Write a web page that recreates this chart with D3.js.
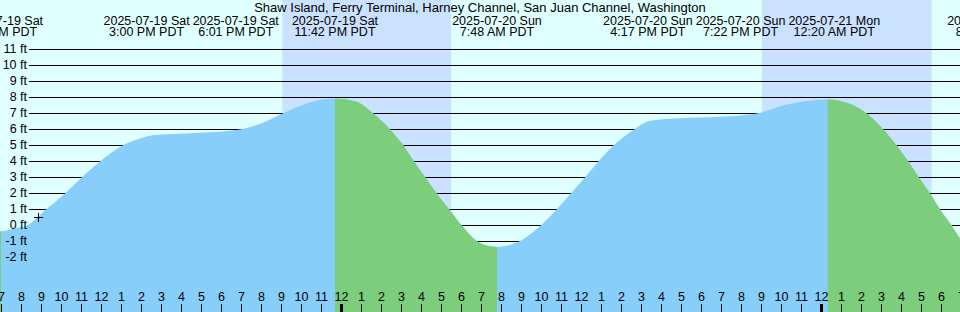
<!DOCTYPE html>
<html>
<head>
<meta charset="utf-8">
<script src="https://cdn.jsdelivr.net/npm/d3@7"></script>
<style>
  html, body { margin: 0; padding: 0; background: #fff; }
  svg { display: block; font-family: "Liberation Sans", Arial, sans-serif; font-size: 12.5px; }
</style>
</head>
<body>
<svg width="960" height="312"></svg>
<script>
const title = 'Shaw Island, Ferry Terminal, Harney Channel, San Juan Channel, Washington';

// water level (PDT, feet)
const curveTimes = [
  '2025-07-19 06:30', '2025-07-19 07:00', '2025-07-19 07:40', '2025-07-19 08:18',
  '2025-07-19 09:15', '2025-07-19 10:12', '2025-07-19 11:02', '2025-07-19 11:57',
  '2025-07-19 13:05', '2025-07-19 13:57', '2025-07-19 14:36', '2025-07-19 15:57',
  '2025-07-19 16:57', '2025-07-19 18:57', '2025-07-19 20:00', '2025-07-19 21:05',
  '2025-07-19 22:17', '2025-07-19 23:07', '2025-07-19 23:42',
  '2025-07-20 00:47', '2025-07-20 01:37', '2025-07-20 02:27', '2025-07-20 03:07',
  '2025-07-20 03:39', '2025-07-20 04:13', '2025-07-20 04:47', '2025-07-20 05:25',
  '2025-07-20 06:02', '2025-07-20 06:49', '2025-07-20 07:20', '2025-07-20 07:48',
  '2025-07-20 08:20', '2025-07-20 08:54', '2025-07-20 09:59', '2025-07-20 10:47',
  '2025-07-20 11:29', '2025-07-20 12:12', '2025-07-20 12:52', '2025-07-20 13:37',
  '2025-07-20 14:40', '2025-07-20 15:17', '2025-07-20 15:57', '2025-07-20 16:57',
  '2025-07-20 18:57', '2025-07-20 20:47', '2025-07-20 22:17', '2025-07-20 23:37',
  '2025-07-21 00:20', '2025-07-21 01:37', '2025-07-21 02:17', '2025-07-21 03:07',
  '2025-07-21 03:47', '2025-07-21 04:22', '2025-07-21 04:54', '2025-07-21 05:27',
  '2025-07-21 05:57', '2025-07-21 06:32', '2025-07-21 06:57', '2025-07-21 07:30',
  '2025-07-21 08:30'
];
const curveHeights = [
  -0.28, -0.36, -0.18, 0.0,
  1.0, 2.0, 3.0, 4.0,
  5.0, 5.43, 5.64, 5.74,
  5.79, 6.0, 6.38, 7.0,
  7.62, 7.89, 7.94,
  7.73, 7.0, 6.0, 5.0,
  4.0, 3.0, 2.0, 1.0,
  0.0, -1.0, -1.27, -1.34,
  -1.25, -1.0, 0.0, 1.0,
  2.0, 3.0, 4.0, 5.0,
  6.0, 6.48, 6.62, 6.7,
  6.79, 7.0, 7.56, 7.83,
  7.87, 7.52, 7.0, 6.0,
  5.0, 4.0, 3.0, 2.0,
  1.0, 0.0, -0.8, -1.3,
  -1.5
];

// labelled tide events
const eventTimes = [
  '2025-07-19 06:57', '2025-07-19 15:00', '2025-07-19 18:01', '2025-07-19 23:42',
  '2025-07-20 07:48', '2025-07-20 16:17', '2025-07-20 19:22', '2025-07-21 00:20',
  '2025-07-21 08:36'
];

// sunset -> sunrise
const nightStarts = ['2025-07-19 21:04', '2025-07-20 21:03'];
const nightEnds = ['2025-07-20 05:30', '2025-07-21 05:32'];

const feetTicks = [-2, -1, 0, 1, 2, 3, 4, 5, 6, 7, 8, 9, 10, 11];
const markTime = '2025-07-19 08:50';
const startTime = '2025-07-19 06:57';
const endTime = '2025-07-21 06:57';

const width = 960;
const height = 312;
const parse = d3.timeParse('%Y-%m-%d %H:%M');

const svg = d3.select('svg');

const x = d3.scaleTime()
  .domain([parse(startTime), parse(endTime)])
  .range([0, width]);
const y = d3.scaleLinear()
  .domain([0, 11])
  .range([225.5, 49.5]);

const curve = curveTimes.map((t, i) => ({ t: parse(t), h: curveHeights[i] }));

// background: day / night
svg.append('rect')
  .attr('width', width)
  .attr('height', height)
  .attr('fill', '#e0ffff');

svg.append('g')
  .selectAll('rect')
  .data(nightStarts)
  .enter()
  .append('rect')
  .attr('x', (d, i) => x(parse(d)))
  .attr('y', 0)
  .attr('width', (d, i) => x(parse(nightEnds[i])) - x(parse(d)))
  .attr('height', height)
  .attr('fill', '#cae1ff');

// grid lines behind the water
svg.append('g')
  .selectAll('line')
  .data(feetTicks)
  .enter()
  .append('line')
  .attr('x1', 29)
  .attr('x2', width)
  .attr('y1', d => y(d))
  .attr('y2', d => y(d))
  .attr('stroke', '#000')
  .attr('stroke-width', 1);

// falling stretches of the curve get the second colour
const falling = [];
for (let i = 0; i < curve.length - 1; i++) {
  if (curve[i + 1].h < curve[i].h) {
    const last = falling[falling.length - 1];
    if (last && last[1] === curve[i].t) last[1] = curve[i + 1].t;
    else falling.push([curve[i].t, curve[i + 1].t]);
  }
}

svg.append('clipPath')
  .attr('id', 'fall')
  .selectAll('rect')
  .data(falling)
  .enter()
  .append('rect')
  .attr('x', d => x(d[0]))
  .attr('width', d => x(d[1]) - x(d[0]))
  .attr('y', 0)
  .attr('height', height);

const area = d3.area()
  .x(d => x(d.t))
  .y0(height)
  .y1(d => y(d.h))
  .curve(d3.curveMonotoneX);

svg.append('path')
  .datum(curve)
  .attr('d', area)
  .attr('fill', '#87cefa');

svg.append('path')
  .datum(curve)
  .attr('d', area)
  .attr('fill', '#7ccd7c')
  .attr('clip-path', 'url(#fall)');

// feet labels
svg.append('g')
  .selectAll('text')
  .data(feetTicks)
  .enter()
  .append('text')
  .attr('x', 27)
  .attr('y', d => y(d) + 3.5)
  .attr('text-anchor', 'end')
  .text(d => d + ' ft');

// hour axis along the bottom (one extra hour so the clipped label at the right shows)
const hours = d3.timeHour.range(x.domain()[0], d3.timeHour.offset(x.domain()[1], 1));
const axis = d3.axisTop(x)
  .tickValues(hours)
  .tickFormat(d3.timeFormat('%-I'))
  .tickSize(8)
  .tickPadding(3);

const gAxis = svg.append('g')
  .attr('transform', `translate(0,${height})`)
  .call(axis);
gAxis.select('.domain').remove();
gAxis.selectAll('text')
  .attr('font-family', '"Liberation Sans", Arial, sans-serif')
  .attr('font-size', '12.5px')
  .attr('fill', '#000');
gAxis.selectAll('line')
  .attr('stroke', '#000')
  .attr('stroke-width', d => (d.getHours() === 0 ? 3 : 1));

// cross on the curve
const interp = d3.scaleTime()
  .domain(curve.map(d => d.t))
  .range(curve.map(d => d.h));
const mt = parse(markTime);
const mx = Math.round(x(mt)) + 0.5;
const my = Math.round(y(interp(mt))) + 0.5;
svg.append('path')
  .attr('d', `M${mx - 4.5},${my}H${mx + 4.5}M${mx},${my - 4.5}V${my + 4.5}`)
  .attr('stroke', '#000')
  .attr('stroke-width', 1);

// title
svg.append('text')
  .attr('x', width / 2)
  .attr('y', 11.5)
  .attr('text-anchor', 'middle')
  .attr('font-size', '13px')
  .text(title);

// event labels, pushed apart where they would collide
const fmtDay = d3.timeFormat('%Y-%m-%d %a');
const fmtTime = d3.timeFormat('%-I:%M %p PDT');

const labels = svg.append('g')
  .selectAll('g')
  .data(eventTimes.map(parse))
  .enter()
  .append('g');

labels.append('text')
  .attr('class', 'day')
  .attr('y', 24.5)
  .attr('text-anchor', 'middle')
  .text(d => fmtDay(d));
labels.append('text')
  .attr('y', 36)
  .attr('text-anchor', 'middle')
  .text(d => fmtTime(d));

const boxes = [];
labels.each(function(d) {
  const w = d3.select(this).select('.day').node().getComputedTextLength();
  boxes.push({ cx: x(d), w: w });
});
const gap = 3;
for (let k = 0; k < 200; k++) {
  for (let i = 0; i < boxes.length - 1; i++) {
    const a = boxes[i];
    const b = boxes[i + 1];
    const overlap = a.cx + a.w / 2 + gap - (b.cx - b.w / 2);
    if (overlap > 0) {
      a.cx -= overlap / 2;
      b.cx += overlap / 2;
    }
  }
}
labels.attr('transform', (d, i) => `translate(${boxes[i].cx},0)`);
</script>
</body>
</html>
